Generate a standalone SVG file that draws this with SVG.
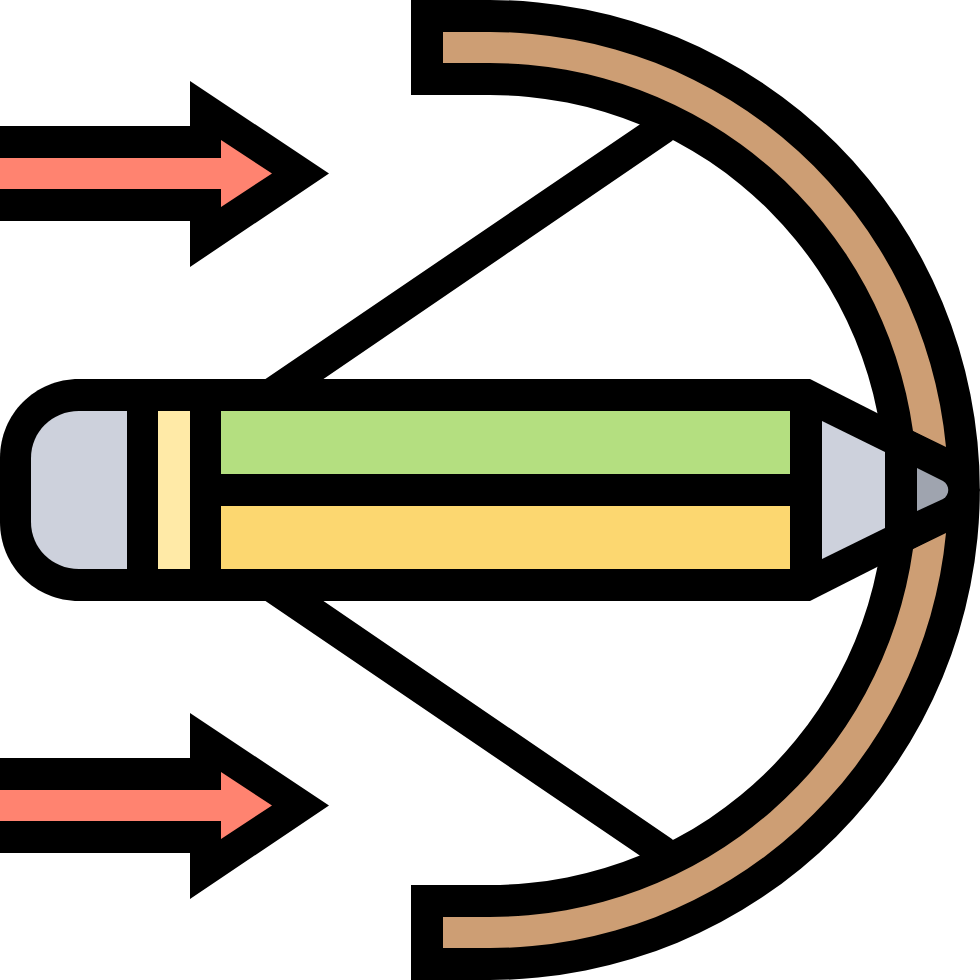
<svg xmlns="http://www.w3.org/2000/svg" width="980" height="980" viewBox="0 0 980 980">
<style>.k{fill:#000}.bow{fill:#cd9e74}.red{fill:#ff8370}.g{fill:#cdd1dc}</style>
<rect width="980" height="980" fill="#fff"/>
<g id="arrow-top">
<path class="k" d="M0 126H190V81L329 173.500L190 267V221H0Z"/>
<path class="red" d="M0 158H221V140L272 173.500L221 207V189H0Z"/>
</g>
<g id="arrow-bottom">
<path class="k" d="M0 758H190V713L329 805.500L190 899V853H0Z"/>
<path class="red" d="M0 790H221V772L272 805.500L221 839V821H0Z"/>
</g>
<g id="bow">
<path class="k" d="M264 380L639 125L662 105L682 130L672 141L322 380Z"/>
<path class="k" d="M264 600L639 855L662 875L682 850L672 839L322 600Z"/>
<path class="k" d="M411 0H490A490 490 0 0 1 490 980H411V885H490A395 395 0 0 0 490 95H411Z"/>
<path class="bow" d="M443 32H490A458 458 0 0 1 946 447L913 431A427 427 0 0 0 490 63H443Z"/>
<path class="bow" d="M443 948H490A458 458 0 0 0 946 533L913 549A427 427 0 0 1 490 917H443Z"/>
</g>
<g id="pencil">
<path class="k" d="M79 379H810L960 455L980 490L960 525L810 601H79C35 601 0 566 0 522V458C0 414 35 379 79 379Z"/>
<path class="g" d="M127 411V569H79C52 569 31 548 31 522V458C31 432 52 411 79 411Z"/>
<rect x="158" y="411" width="32" height="158" fill="#ffeaa7"/>
<rect x="221" y="411" width="569" height="63" fill="#b4df80"/>
<rect x="221" y="506" width="569" height="63" fill="#fcd770"/>
<path class="g" d="M822 421L885 452V528L822 559Z"/>
<path fill="#9fa4af" d="M917 468L943 481C950 485 950 495 943 499L917 511Z"/>
</g>
</svg>
